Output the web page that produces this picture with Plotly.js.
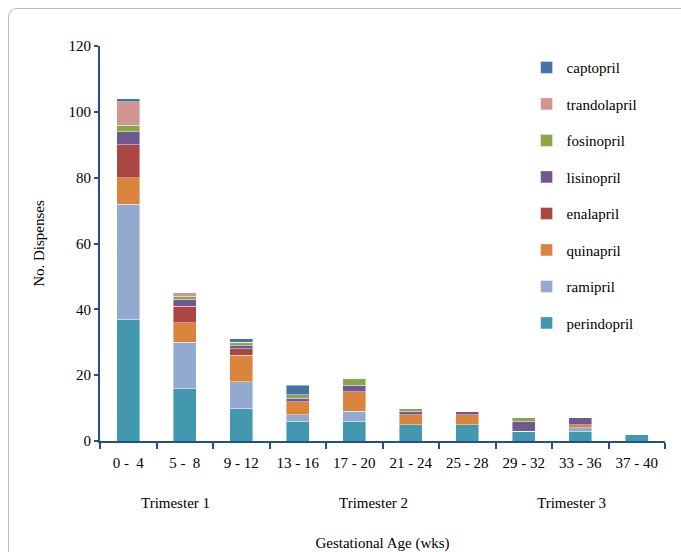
<!DOCTYPE html>
<html><head><meta charset="utf-8">
<script src="https://cdn.plot.ly/plotly-3.0.1.min.js"></script>
<style>
html,body{margin:0;padding:0;background:#fff;overflow:hidden;width:681px;height:552px;}
#frame{position:absolute;left:8px;top:8px;width:720px;height:600px;border:1px solid #b8b8b8;border-radius:9px;}
#chart{position:absolute;left:0;top:0;width:681px;height:552px;}
</style></head>
<body><div id="frame"></div><div id="chart"></div>
<script>
const categories = ["0 -  4","5 -  8","9 - 12","13 - 16","17 - 20","21 - 24","25 - 28","29 - 32","33 - 36","37 - 40"];
const perindopril  = [37,16,10,6,6,5,5,3,3,2];
const ramipril     = [35,14,8,2,3,0,0,0,1,0];
const quinapril    = [8,6,8,4,6,3,3,0,1,0];
const enalapril    = [10,5,2,0,0,0,0,0,0,0];
const lisinopril   = [4,2,1,1,2,1,1,3,2,0];
const fosinopril   = [2,1,1,1,2,1,0,1,0,0];
const trandolapril = [7,1,0,0,0,0,0,0,0,0];
const captopril    = [1,0,1,3,0,0,0,0,0,0];
const seriesNames = ["perindopril","ramipril","quinapril","enalapril","lisinopril","fosinopril","trandolapril","captopril"];
const seriesValues = [perindopril,ramipril,quinapril,enalapril,lisinopril,fosinopril,trandolapril,captopril];
const colors = ["#4198AF","#94A9D0","#DB843D","#AA4643","#71588F","#89A54E","#D39592","#4572A7"];
const trimesters = ["Trimester 1","Trimester 2","Trimester 3"];
const trimesterPos = [0.84,4.34,7.84];

const font = "Liberation Serif, Times New Roman, serif";
const traces = seriesNames.map((n,i)=>({
  type:"bar", name:n, x:categories, y:seriesValues[i],
  legendgroup:n, legendrank: 1000 - i,
  marker:{color:colors[i], line:{color:"rgba(255,255,255,0.7)", width:0.6}}
}));
const axisColor = "#24508a";
const F = {family:font,size:15,color:"#000"};
const layout = {
  width:681, height:552,
  paper_bgcolor:"rgba(0,0,0,0)", plot_bgcolor:"rgba(0,0,0,0)",
  margin:{l:100, r:16, t:46, b:111},
  barmode:"stack", bargap:0.6,
  font:F,
  showlegend:true,
  legend:{x:0.755, y:0.987, xanchor:"left", yanchor:"top", traceorder:"grouped",
          tracegroupgap:14, font:F, bgcolor:"rgba(0,0,0,0)"},
  xaxis:{type:"category", showline:true, linecolor:axisColor, linewidth:2,
         ticks:"outside", ticklen:6, tickcolor:axisColor, tickwidth:2, tickson:"boundaries",
         tickfont:F, range:[-0.5,9.5], ticklabelstandoff:7,
         title:{text:"Gestational Age (wks)", font:F, standoff:67}},
  yaxis:{range:[0,120], dtick:20, showline:true, linecolor:axisColor, linewidth:2,
         ticks:"outside", ticklen:4, tickcolor:axisColor, tickwidth:2, showgrid:false, zeroline:false,
         tickfont:F,
         title:{text:"No. Dispenses", font:F, standoff:20}},
  annotations: trimesters.map((t,i)=>({text:t, x:trimesterPos[i], xref:"x", y:-0.183, yref:"paper",
     showarrow:false, font:F}))
};
Plotly.newPlot("chart", traces, layout, {displayModeBar:false, staticPlot:true});
</script></body></html>
